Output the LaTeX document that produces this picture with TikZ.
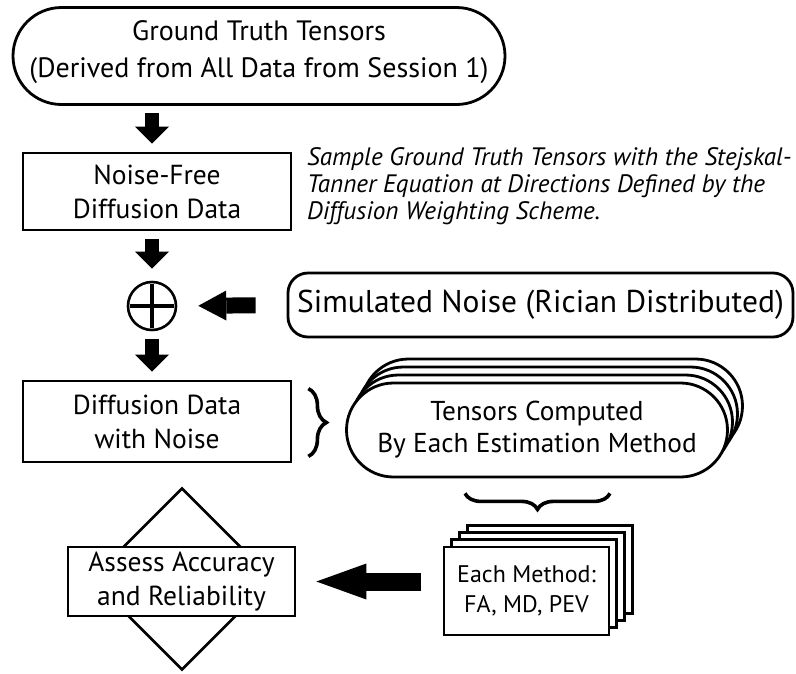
\documentclass[tikz,border=0pt]{standalone}
\usepackage{fontspec}
\setmainfont{PT Sans}
\usepackage{tikz}
\usetikzlibrary{
  shapes.misc, shapes.geometric, arrows.meta, decorations.pathreplacing
}
\tikzset{
	ovalnode/.style={
			shape=rounded rectangle,
			draw=black,
			line width=2.8pt,
			fill=white,
			inner sep=0pt,
			align=center
		},
	boxnode/.style={
			shape=rectangle,
			draw=black,
			line width=2.8pt,
			fill=white,
			inner sep=0pt,
			align=center,
			font=\fontsize{27.5}{34}\selectfont
		},
	tensornode/.style={
			ovalnode,
			minimum width=381pt,
			minimum height=94pt,
			font=\fontsize{27.3}{32}\selectfont
		},
	cardnode/.style={
			boxnode,
			minimum width=165pt,
			minimum height=88pt,
			font=\fontsize{24}{30}\selectfont
		},
	noisenode/.style={
			shape=rectangle,
			rounded corners=20pt,
			draw=black,
			line width=2.8pt,
			fill=white,
			inner sep=0pt,
			font=\fontsize{31.5}{34}\selectfont
		},
	plusnode/.style={
			shape=circle,
			draw=black,
			line width=2.6pt,
			minimum size=48pt,
			inner sep=0pt
		},
	diamondnode/.style={
			shape=diamond,
			draw=black,
			line width=2.6pt,
			minimum width=182pt,
			minimum height=182pt,
			inner sep=0pt
		}
}
\tikzset{
	downarrow/.style={line width=14pt, -{Triangle[width=34pt,length=17pt,line width=0pt]}},
	noisearrow/.style={line width=16pt, -{Triangle[width=30pt,length=28pt,line width=0pt]}},
	resultarrow/.style={line width=18pt, -{Triangle[width=36pt,length=50pt,line width=0pt]}},
	vbrace/.style={decorate, decoration={brace, amplitude=18pt}, line width=3.6pt},
	hbrace/.style={decorate, decoration={brace, amplitude=16pt}, line width=3.6pt}
}

\begin{document}
\begin{tikzpicture}[x=1pt, y=-1pt]

  \useasboundingbox (0,0) rectangle (796,673);

  \node[ovalnode, minimum width=492pt, minimum height=97pt] (gt) at (259,56) {};
  \node[align=center, font=\fontsize{28}{37}\selectfont] at ([yshift=4pt]gt) {Ground Truth Tensors\\(Derived from All Data from Session 1)};

  \node[boxnode, minimum width=268pt, minimum height=77pt] (nf) at (157,191.5) {Noise-Free\\Diffusion Data};
  \node[anchor=west, align=left, inner sep=0pt, font=\itshape\fontsize{25.2}{27}\selectfont] (sg) at (307,186) {Sample Ground Truth Tensors with the Stejskal-\\Tanner Equation at Directions Defined by the\\Diffusion Weighting Scheme.};

  \node[plusnode] (pl) at (152,306) {};
  \node[noisenode, minimum width=505pt, minimum height=64pt] (sn) at (540.5,305) {Simulated Noise (Rician Distributed)};

  \node[boxnode, minimum width=268pt, minimum height=81pt] (dn) at (157,421.5) {Diffusion Data\\with Noise};

  \node[tensornode] (tc4) at (552,406) {};
  \node[tensornode] (tc3) at (547,414) {};
  \node[tensornode] (tc2) at (542,422) {};
  \node[tensornode] (tc1) at (537,430) {Tensors Computed\\By Each Estimation Method};

  \node[diamondnode] (dm) at (182,579) {};
  \node[boxnode, minimum width=227pt, minimum height=69pt] (as) at (181.5,581.5) {Assess Accuracy\\and Reliability};

  \node[cardnode] (em4) at (549.6,569.1) {};
  \node[cardnode] (em3) at (541.9,576.4) {};
  \node[cardnode] (em2) at (534.2,583.7) {};
  \node[cardnode] (em1) at (526.5,591) {Each Method:\\FA, MD, PEV};

  \draw[line width=4.8pt, shorten <=3pt, shorten >=3pt] (pl.north) -- (pl.south);
  \draw[line width=4.8pt, shorten <=3pt, shorten >=3pt] (pl.west) -- (pl.east);

  \draw[downarrow, shorten <=7pt, shorten >=8pt] (gt.south -| pl) -- (nf.north -| pl);
  \draw[downarrow, shorten <=8pt, shorten >=12pt] (nf.south -| pl) -- (pl.north);
  \draw[downarrow, shorten <=8pt, shorten >=8pt] (pl.south) -- (dn.north -| pl);
  \draw[noisearrow, shorten <=31pt, shorten >=21pt] (sn.west) -- (pl.east);
  \draw[resultarrow, shorten <=22pt, shorten >=20pt] (as.east -| em1.west) -- (as.east);

  \draw[vbrace] ([xshift=16pt,yshift=-9pt]dn.north east) -- ([xshift=16pt,yshift=7pt]dn.south east);
  \draw[hbrace] ([xshift=73pt,yshift=-15pt]tc1.south) -- ([xshift=-72pt,yshift=-15pt]tc1.south);

\end{tikzpicture}
\end{document}
